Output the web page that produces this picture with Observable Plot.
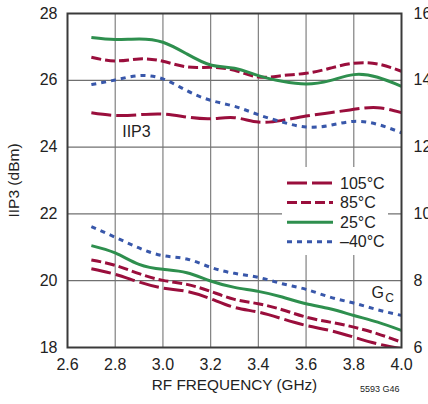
<!DOCTYPE html>
<html>
<head>
<meta charset="utf-8">
<script src="https://cdn.jsdelivr.net/npm/d3@7"></script>
<script src="https://cdn.jsdelivr.net/npm/@observablehq/plot@0.6"></script>
<style>
  html, body { margin: 0; padding: 0; background: #fff; }
  #chart { position: relative; width: 428px; height: 404px; overflow: hidden; }
</style>
</head>
<body>
<div id="chart"></div>
<script>
// ---- data ----
const freq = [2.7, 2.8, 2.9, 3.0, 3.1, 3.2, 3.3, 3.4, 3.5, 3.6, 3.7, 3.8, 3.9, 4.0];

// IIP3 (dBm), left axis
const iip3_105 = [25.03, 24.95, 24.97, 24.99, 24.90, 24.85, 24.88, 24.75, 24.80, 24.93, 25.03, 25.13, 25.18, 25.03];
const iip3_85  = [26.69, 26.58, 26.64, 26.57, 26.40, 26.39, 26.30, 26.10, 26.14, 26.21, 26.36, 26.51, 26.49, 26.27];
const iip3_25  = [27.28, 27.22, 27.24, 27.14, 26.79, 26.46, 26.36, 26.14, 25.97, 25.89, 25.99, 26.17, 26.09, 25.82];
const iip3_m40 = [25.87, 26.01, 26.14, 26.04, 25.69, 25.40, 25.22, 24.97, 24.75, 24.60, 24.65, 24.77, 24.68, 24.43];

// Conversion gain GC (dB), right axis
const gc_105 = [8.36, 8.19, 7.96, 7.78, 7.68, 7.46, 7.20, 7.06, 6.86, 6.66, 6.51, 6.31, 6.11, 5.97];
const gc_85  = [8.62, 8.46, 8.21, 8.01, 7.89, 7.68, 7.44, 7.31, 7.13, 6.91, 6.76, 6.61, 6.41, 6.16];
const gc_25  = [9.05, 8.83, 8.49, 8.34, 8.24, 7.99, 7.80, 7.68, 7.51, 7.31, 7.16, 6.96, 6.76, 6.51];
const gc_m40 = [9.62, 9.30, 8.98, 8.75, 8.65, 8.40, 8.22, 8.10, 7.91, 7.74, 7.51, 7.33, 7.13, 6.96];

const xTicks = [2.6, 2.8, 3.0, 3.2, 3.4, 3.6, 3.8, 4.0];
const leftTicks = [18, 20, 22, 24, 26, 28];
const rightTicks = [6, 8, 10, 12, 14, 16];
const legendLabels = ["105°C", "85°C", "25°C", "\u201340°C"];

// ---- styles ----
const RED = "#9a0e3c", GREEN = "#2e8f4e", BLUE = "#3857aa";
const styles = [
  {stroke: RED, dash: "20,5"},
  {stroke: RED, dash: "10,4"},
  {stroke: GREEN, dash: null},
  {stroke: BLUE, dash: "5,5"}
];
const gcOffset = leftTicks[0] - rightTicks[0]; // right axis maps onto left scale

const iip3Series = [iip3_105, iip3_85, iip3_25, iip3_m40];
const gcSeries = [gc_105, gc_85, gc_25, gc_m40];

function rows(arr, off) { return freq.map((f, i) => ({f, v: arr[i] + off})); }

const FONT = "'Liberation Sans', Arial, Helvetica, sans-serif";

const lineMarks = [];
[gcSeries, iip3Series].forEach((group, gi) => {
  group.forEach((arr, si) => {
    const s = styles[si];
    lineMarks.push(Plot.line(rows(arr, gi === 0 ? gcOffset : 0), {
      x: "f", y: "v", curve: "natural", stroke: s.stroke, strokeWidth: 3,
      strokeDasharray: s.dash, strokeLinecap: "butt", clip: true
    }));
  });
});

const plot = Plot.plot({
  width: 428, height: 404,
  marginLeft: 67, marginRight: 27, marginTop: 13, marginBottom: 57,
  x: {domain: [2.6, 4.0]},
  y: {domain: [18, 28]},
  style: {fontFamily: FONT, fontSize: "16px", color: "#222", background: "#fff", overflow: "visible"},
  marks: [
    Plot.gridX(xTicks.slice(1, -1), {stroke: "#808080", strokeOpacity: 1, strokeWidth: 1.2}),
    Plot.gridY(leftTicks.slice(1, -1), {stroke: "#707070", strokeOpacity: 1, strokeWidth: 1.2}),
    Plot.axisX(xTicks, {tickFormat: d => d.toFixed(1), tickSize: 0, tickPadding: 11, label: null, fontSize: 16}),
    Plot.axisY(leftTicks, {tickSize: 0, tickPadding: 10, label: null, fontSize: 16}),
    Plot.axisY(leftTicks, {anchor: "right", tickFormat: (d, i) => String(rightTicks[i]), tickSize: 0, tickPadding: 12, label: null, fontSize: 16}),
    ...lineMarks,
    Plot.frame({stroke: "#3a3a3a", strokeWidth: 2}),
    Plot.text(["IIP3"], {x: 2.889, y: 24.47, fontSize: 16, fill: "#222"}),
    Plot.text(["G"], {x: 3.9, y: 19.65, fontSize: 16, fill: "#222"}),
    Plot.text(["C"], {x: 3.95, y: 19.48, fontSize: 12, fill: "#222"}),
    Plot.text(["RF FREQUENCY (GHz)"], {frameAnchor: "bottom", dy: 42, fontSize: 15.3, textAnchor: "middle", fill: "#222"}),
    Plot.text(["IIP3 (dBm)"], {frameAnchor: "left", dx: -53, rotate: -90, fontSize: 15.5, textAnchor: "middle", fill: "#222"}),
    Plot.text(["5593 G46"], {frameAnchor: "bottom-right", dx: -2, dy: 44, fontSize: 9, textAnchor: "end", fill: "#222"})
  ]
});

document.getElementById("chart").appendChild(plot);

// ---- legend (inside plot area, white box over the grid) ----
const svg = d3.select(plot);
const lg = svg.append("g").attr("font-family", FONT).attr("font-size", 16)
  .attr("fill", "#222").attr("text-anchor", "start");
lg.append("rect").attr("x", 282).attr("y", 167).attr("width", 106).attr("height", 88).attr("fill", "#fff");
legendLabels.forEach((lab, i) => {
  const y = 183 + i * 19.6;
  const s = styles[i];
  lg.append("line").attr("x1", 287).attr("x2", 333).attr("y1", y).attr("y2", y)
    .attr("stroke", s.stroke).attr("stroke-width", 3)
    .attr("stroke-dasharray", s.dash || null);
  lg.append("text").attr("x", 340).attr("y", y).attr("dy", "0.35em")
    .attr("text-anchor", "start").text(lab);
});
</script>
</body>
</html>
